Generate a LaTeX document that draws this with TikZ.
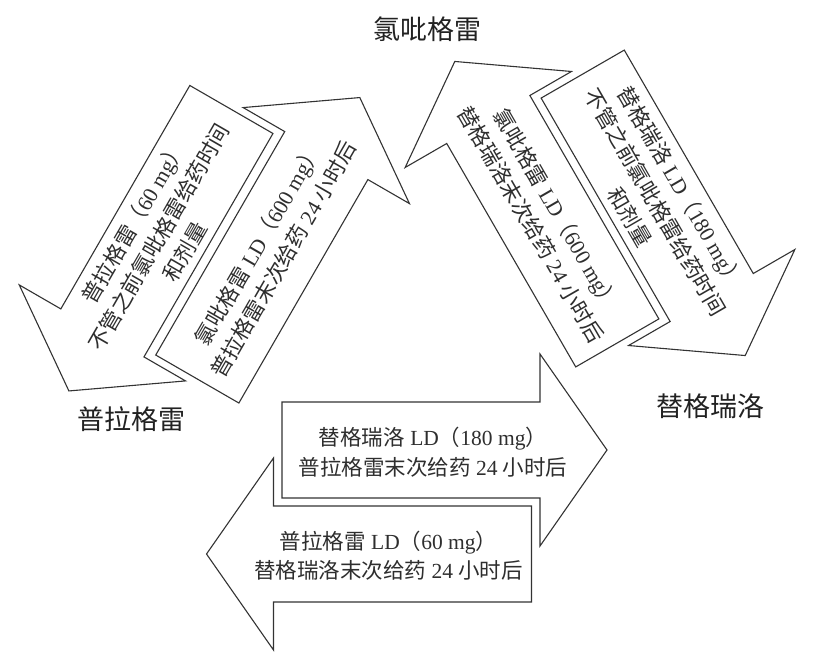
\documentclass[tikz,border=0pt]{standalone}
\usepackage{fontspec}
\setmainfont{Liberation Serif}
\newfontfamily\zhfont{Noto Sans CJK SC}
\newcommand\zh[1]{{\zhfont #1}}
\definecolor{linec}{HTML}{333333}
\definecolor{txtc}{HTML}{2E2E2E}
\definecolor{namec}{HTML}{222222}
\tikzset{
  blockarr/.style={draw=linec, fill=white, line width=1.1pt, line join=miter},
  arrtext/.style={text=txtc, align=center, inner sep=0pt,
    font=\fontsize{21.5}{29.5}\selectfont},
  drugname/.style={text=namec, inner sep=0pt,
    font=\fontsize{27}{27}\selectfont\zhfont}
}
\newcommand\drawblockarrow[2]{%
  \begin{scope}[shift={#1},rotate=#2]
    \draw[blockarr] (-129,-48) -- (129,-48) -- (129,-96) -- (196,0)
      -- (129,96) -- (129,48) -- (-129,48) -- cycle;
  \end{scope}}
\begin{document}
\begin{tikzpicture}[x=1pt,y=-1pt]
  \useasboundingbox[fill=white] (0,0) rectangle (816,666);
  % arrows
  \drawblockarrow{(411,450)}{0}
  \drawblockarrow{(402.5,554)}{180}
  \drawblockarrow{(166.9,221.2)}{240}
  \drawblockarrow{(261.8,267.3)}{60}
  \drawblockarrow{(552.8,231.2)}{120}
  \drawblockarrow{(647.2,185.8)}{300}
  % texts
  \node[arrtext] (tR) at (433,452)
    {\zh{替格瑞洛} LD\zh{（}180 mg\zh{）}\\\zh{普拉格雷末次给药} 24 \zh{小时后}};
  \node[arrtext] (tL) at (388.5,555.5)
    {\zh{普拉格雷} LD\zh{（}60 mg\zh{）}\\\zh{替格瑞洛末次给药} 24 \zh{小时后}};
  \node[arrtext,rotate=60] (tA) at (159,237)
    {\zh{普拉格雷（}60 mg\zh{）}\\\zh{不管之前氯吡格雷给药时间}\\\zh{和剂量}};
  \node[arrtext,rotate=60] (tB) at (270.5,252)
    {\zh{氯吡格雷} LD\zh{（}600 mg\zh{）}\\\zh{普拉格雷末次给药} 24 \zh{小时后}};
  \node[arrtext,rotate=-60] (tC) at (544,217)
    {\zh{氯吡格雷} LD\zh{（}600 mg\zh{）}\\\zh{替格瑞洛末次给药} 24 \zh{小时后}};
  \node[arrtext,rotate=-60] (tD) at (655.5,202)
    {\zh{替格瑞洛} LD\zh{（}180 mg\zh{）}\\\zh{不管之前氯吡格雷给药时间}\\\zh{和剂量}};
  % drug names
  \node[drugname] (clo) at (427.5,29.5) {氯吡格雷};
  \node[drugname] (pra) at (131.5,419.5) {普拉格雷};
  \node[drugname] (tic) at (710,406) {替格瑞洛};
\end{tikzpicture}
\end{document}
